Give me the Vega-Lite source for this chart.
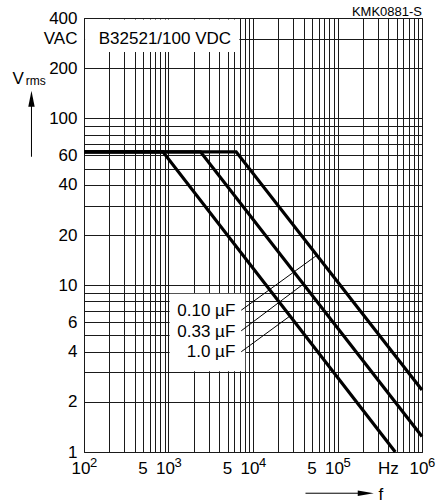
{
  "$schema": "https://vega.github.io/schema/vega-lite/v6.json",
  "width": 338,
  "height": 434,
  "autosize": {"type": "none"},
  "padding": {"left": 84, "top": 18, "right": 22, "bottom": 52},
  "background": "white",
  "config": {"view": {"stroke": "black", "strokeWidth": 1}, "font": "Liberation Sans", "text": {"font": "Liberation Sans", "color": "black"}},
  "encoding": {
    "x": {
      "field": "x", "type": "quantitative",
      "scale": {"type": "log", "domain": [100, 1000000], "nice": false},
      "axis": {
        "values": [100, 200, 300, 400, 500, 600, 700, 800, 900, 1000, 2000, 3000, 4000, 5000, 6000, 7000, 8000, 9000, 10000, 20000, 30000, 40000, 50000, 60000, 70000, 80000, 90000, 100000, 200000, 300000, 400000, 500000, 600000, 700000, 800000, 900000, 1000000],
        "grid": true, "gridColor": "#1a1a1a", "gridWidth": 1, "gridOpacity": 1,
        "ticks": false, "domain": false, "labels": false, "title": null
      }
    },
    "y": {
      "field": "y", "type": "quantitative",
      "scale": {"type": "log", "domain": [1, 400], "nice": false},
      "axis": {
        "values": [1, 2, 3, 4, 5, 6, 7, 8, 9, 10, 20, 30, 40, 50, 60, 70, 80, 90, 100, 200, 300, 400],
        "grid": true, "gridColor": "#1a1a1a", "gridWidth": 1, "gridOpacity": 1,
        "ticks": false, "domain": false, "title": null,
        "labelExpr": "indexof([1,2,4,6,10,20,40,60,100,200,400], datum.value) >= 0 ? '' + datum.value : (datum.value == 300 ? 'VAC' : '')",
        "labelFont": "Liberation Sans", "labelFontSize": 17, "labelColor": "black",
        "labelPadding": 7, "labelOverlap": false, "labelFlush": false, "labelBound": false
      }
    }
  },
  "layer": [
    {
      "data": {"values": [
        {"x": 103, "x2": 6900, "y": 250, "y2": 392},
        {"x": 1030, "x2": 8090, "y": 3.05, "y2": 8.9}
      ]},
      "mark": {"type": "rect", "color": "white", "opacity": 1},
      "encoding": {"x2": {"field": "x2"}, "y2": {"field": "y2"}}
    },
    {
      "data": {"values": [
        {"c": "1.0", "x": 100, "y": 63}, {"c": "1.0", "x": 859, "y": 63}, {"c": "1.0", "x": 483000, "y": 1},
        {"c": "0.33", "x": 100, "y": 63}, {"c": "0.33", "x": 2390, "y": 63}, {"c": "0.33", "x": 1000000, "y": 1.24},
        {"c": "0.10", "x": 100, "y": 63}, {"c": "0.10", "x": 6320, "y": 63}, {"c": "0.10", "x": 1000000, "y": 2.35}
      ]},
      "mark": {"type": "line", "color": "black", "strokeWidth": 3.2, "strokeJoin": "miter", "strokeCap": "butt"},
      "encoding": {"detail": {"field": "c"}}
    },
    {
      "data": {"values": [
        {"x": 7260, "y": 7.08, "x2": 55800, "y2": 15.0},
        {"x": 7260, "y": 5.33, "x2": 38800, "y2": 10.1},
        {"x": 7260, "y": 3.99, "x2": 27000, "y2": 6.5},
        {"x": 23.9, "y": 58.9, "x2": 23.9, "y2": 125},
        {"x": 41800, "y": 0.566, "x2": 215000, "y2": 0.566}
      ]},
      "mark": {"type": "rule", "color": "black", "strokeWidth": 1},
      "encoding": {"x2": {"field": "x2"}, "y2": {"field": "y2"}}
    },
    {
      "data": {"values": [{"x": 23.9, "y": 131}]},
      "mark": {"type": "point", "filled": true, "color": "black", "opacity": 1, "size": 256, "strokeWidth": 0, "shape": "M0,-1L0.4,1L-0.4,1Z"}
    },
    {
      "data": {"values": [{"x": 216000, "y": 0.566}]},
      "mark": {"type": "point", "filled": true, "color": "black", "opacity": 1, "size": 256, "strokeWidth": 0, "shape": "M1,0L-1,-0.35L-1,0.35Z"}
    },
    {
      "data": {"values": [
        {"x": 6170, "y": 6.98, "t": "0.10 µF"},
        {"x": 6170, "y": 5.27, "t": "0.33 µF"},
        {"x": 6170, "y": 3.97, "t": "1.0 µF"}
      ]},
      "mark": {"type": "text", "align": "right", "baseline": "middle", "fontSize": 17},
      "encoding": {"text": {"field": "t"}}
    },
    {
      "data": {"values": [
        {"x": 906, "y": 280, "t": "B32521/100 VDC"},
        {"x": 16.6, "y": 161.4, "t": "V"},
        {"x": 325000, "y": 0.516, "t": "f"},
        {"x": 500, "y": 0.738, "t": "5"},
        {"x": 5000, "y": 0.738, "t": "5"},
        {"x": 50000, "y": 0.738, "t": "5"},
        {"x": 400000, "y": 0.738, "t": "Hz"}
      ]},
      "mark": {"type": "text", "align": "center", "baseline": "alphabetic", "fontSize": 17},
      "encoding": {"text": {"field": "t"}}
    },
    {
      "data": {"values": [
        {"x": 100, "y": 0.738, "t": "10"},
        {"x": 1000, "y": 0.738, "t": "10"},
        {"x": 10000, "y": 0.738, "t": "10"},
        {"x": 100000, "y": 0.738, "t": "10"},
        {"x": 1000000, "y": 0.738, "t": "10"}
      ]},
      "mark": {"type": "text", "align": "center", "baseline": "alphabetic", "fontSize": 17, "dx": -3},
      "encoding": {"text": {"field": "t"}}
    },
    {
      "data": {"values": [
        {"x": 100, "y": 0.817, "t": "2"},
        {"x": 1000, "y": 0.817, "t": "3"},
        {"x": 10000, "y": 0.817, "t": "4"},
        {"x": 100000, "y": 0.817, "t": "5"},
        {"x": 1000000, "y": 0.817, "t": "6"}
      ]},
      "mark": {"type": "text", "align": "left", "baseline": "alphabetic", "fontSize": 13, "dx": 6},
      "encoding": {"text": {"field": "t"}}
    },
    {
      "data": {"values": [{"x": 20.5, "y": 157.7, "t": "rms"}]},
      "mark": {"type": "text", "align": "left", "baseline": "alphabetic", "fontSize": 12},
      "encoding": {"text": {"field": "t"}}
    },
    {
      "data": {"values": [{"x": 1000000, "y": 414, "t": "KMK0881-S"}]},
      "mark": {"type": "text", "align": "right", "baseline": "alphabetic", "fontSize": 13},
      "encoding": {"text": {"field": "t"}}
    }
  ]
}
